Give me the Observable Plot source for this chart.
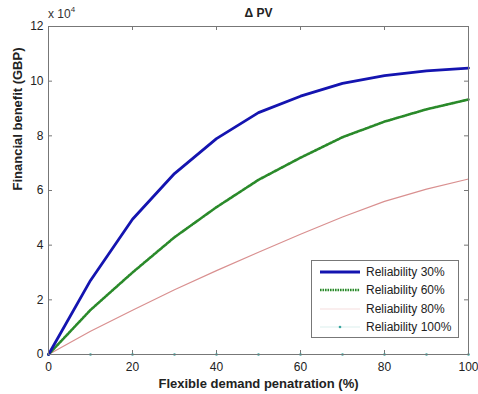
<!DOCTYPE html>
<html>
<head>
<meta charset="utf-8">
<script src="https://cdn.jsdelivr.net/npm/d3@7"></script>
<script src="https://cdn.jsdelivr.net/npm/@observablehq/plot@0.6"></script>
<style>
  body { margin: 0; background: #fff; font-family: "Liberation Sans", Arial, sans-serif; }
  #wrap { position: relative; width: 478px; height: 394px; }
  #legend { position: absolute; left: 311px; top: 260px; width: 146px; height: 76px;
    border: 1px solid #777; background: #fff; font-size: 12px; color: #222; }
  #legend .row { position: absolute; left: 0; height: 19px; display: flex; align-items: center; }
  #legend svg { margin-left: 8px; margin-right: 6px; }
  #exp { position: absolute; left: 48px; top: 5px; font-size: 12px; color: #333; }
  #exp sup { font-size: 8px; vertical-align: 6px; }
</style>
</head>
<body>
<div id="wrap">
  <div id="chart"></div>
  <div id="exp">x 10<sup>4</sup></div>
  <div id="legend"></div>
</div>
<script>
const penetration = [0, 10, 20, 30, 40, 50, 60, 70, 80, 90, 100];
const rel30  = [0, 2.71, 4.95, 6.62, 7.9, 8.85, 9.45, 9.92, 10.2, 10.38, 10.48];
const rel60  = [0, 1.63, 3.0, 4.29, 5.39, 6.39, 7.2, 7.95, 8.52, 8.97, 9.33];
const rel80  = [0, 0.85, 1.62, 2.37, 3.07, 3.74, 4.4, 5.03, 5.6, 6.05, 6.42];
const rel100 = [0, 0, 0, 0, 0, 0, 0, 0, 0, 0, 0];
const seriesNames = ["Reliability 30%", "Reliability 60%", "Reliability 80%", "Reliability 100%"];
const xTicks = [0, 20, 40, 60, 80, 100];
const yTicks = [0, 2, 4, 6, 8, 10, 12];
const colors = ["#1414b0", "#2a8a2a", "#d99090", "#3aa6a0"];

const allSeries = [rel30, rel60, rel80, rel100];
const rows = allSeries.flatMap((vals, i) =>
  penetration.map((p, j) => ({ x: p, y: vals[j], s: seriesNames[i] })));
const bySeries = name => rows.filter(r => r.s === name);

const W = 478, H = 394, mL = 48, mR = 10, mT = 26, mB = 40;
const fw = W - mL - mR, fh = H - mT - mB, tk = 4;

const chart = Plot.plot({
  width: W, height: H,
  marginLeft: mL, marginRight: mR, marginTop: mT, marginBottom: mB,
  style: { fontFamily: "Liberation Sans, Arial, sans-serif", fontSize: "12px", color: "#222", background: "#fff" },
  x: { domain: [0, 100] },
  y: { domain: [0, 12] },
  marks: [
    Plot.axisX({ ticks: xTicks, tickSize: 0, tickPadding: 8, label: null, fontSize: 12 }),
    Plot.axisY({ ticks: yTicks, tickSize: 0, tickPadding: 5, label: null, fontSize: 12 }),
    Plot.tickX(xTicks, { x: d => d, insetTop: fh - tk, stroke: "#777" }),
    Plot.tickX(xTicks, { x: d => d, insetBottom: fh - tk, stroke: "#777" }),
    Plot.tickY(yTicks, { y: d => d, insetRight: fw - tk, stroke: "#777" }),
    Plot.tickY(yTicks, { y: d => d, insetLeft: fw - tk, stroke: "#777" }),
    Plot.line(bySeries(seriesNames[3]), { x: "x", y: "y", stroke: colors[3], strokeWidth: 1 }),
    Plot.dot(bySeries(seriesNames[3]), { x: "x", y: "y", r: 1.3, fill: colors[3], stroke: null }),
    Plot.line(bySeries(seriesNames[2]), { x: "x", y: "y", stroke: colors[2], strokeWidth: 1.2 }),
    Plot.line(bySeries(seriesNames[1]), { x: "x", y: "y", stroke: colors[1], strokeWidth: 2.6, strokeDasharray: "1.6,0.9" }),
    Plot.line(bySeries(seriesNames[0]), { x: "x", y: "y", stroke: colors[0], strokeWidth: 2.8 }),
    Plot.frame({ stroke: "#777" }),
    Plot.text(["Δ PV"], { frameAnchor: "top", dy: -13, lineAnchor: "middle", fontWeight: "bold", fontSize: 12, fill: "#222" }),
    Plot.text(["Flexible demand penatration (%)"], { frameAnchor: "bottom", dy: 29, lineAnchor: "middle", fontWeight: "bold", fontSize: 13, fill: "#222" }),
    Plot.text(["Financial benefit (GBP)"], { frameAnchor: "left", dx: -31, rotate: -90, fontWeight: "bold", fontSize: 13, fill: "#222" })
  ]
});
document.getElementById("chart").appendChild(chart);

const legend = document.getElementById("legend");
const styles = [
  { w: 3, dash: null },
  { w: 2.6, dash: "1.6,0.9" },
  { w: 1.2, dash: null },
  { w: 0.6, dash: null, dot: true }
];
seriesNames.forEach((name, i) => {
  const row = document.createElement("div");
  row.className = "row";
  row.style.top = (1 + i * 18.5) + "px";
  const st = styles[i];
  row.innerHTML = `<svg width="40" height="10"><line x1="0" y1="5" x2="40" y2="5" stroke="${colors[i]}" stroke-width="${st.w}" ${st.dash ? `stroke-dasharray="${st.dash}"` : ""} ${i >= 2 ? 'stroke-opacity="0.3"' : ""}/>${st.dot ? `<circle cx="20" cy="5" r="1.3" fill="${colors[i]}"/>` : ""}</svg><span>${name}</span>`;
  legend.appendChild(row);
});
</script>
</body>
</html>
